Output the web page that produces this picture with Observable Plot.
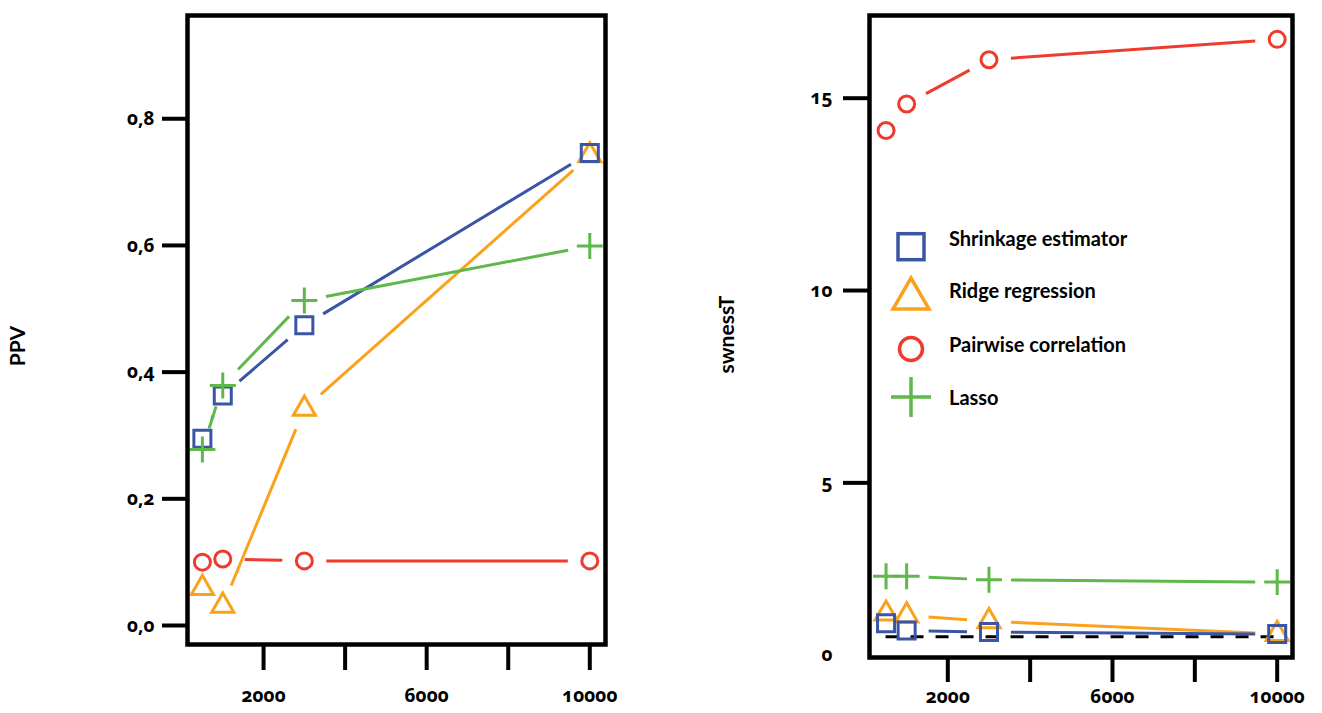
<!DOCTYPE html>
<html>
<head>
<meta charset="utf-8">
<script src="https://cdn.jsdelivr.net/npm/d3@7"></script>
<script src="https://cdn.jsdelivr.net/npm/@observablehq/plot@0.6"></script>
<style>
  html, body { margin: 0; padding: 0; background: #fff; }
  body { width: 1322px; height: 713px; position: relative; overflow: hidden; font-family: Lato, "Open Sans", sans-serif; }
  #left { position: absolute; left: 0; top: 0; }
  #right { position: absolute; left: 660px; top: 0; }
  #legend { position: absolute; left: 870px; top: 200px; }
  svg [aria-label$="tick label"], svg [aria-label$="tick label"] text {
    font-family: "Noto Sans", sans-serif !important;
    font-size: 19px !important;
    font-weight: bold !important;
    font-variant-numeric: oldstyle-nums;
    font-feature-settings: "onum" 1;
  }
</style>
</head>
<body>
<div id="left"></div>
<div id="right"></div>
<svg id="legend" width="330" height="230"></svg>
<script>
// ---------- data ----------
const xValues = [500, 1000, 3000, 10000];
const seriesNames = ["Shrinkage estimator", "Ridge regression", "Pairwise correlation", "Lasso"];
const seriesColors = ["#3b55a5", "#f9a21b", "#ee3b2d", "#5fb84a"];
const seriesSymbols = ["square", "triangle", "circle", "plus"];

const ppvShrinkage = [0.295, 0.363, 0.474, 0.746];
const ppvRidge     = [0.059, 0.031, 0.342, 0.742];
const ppvPairwise  = [0.100, 0.105, 0.102, 0.102];
const ppvLasso     = [0.278, 0.379, 0.513, 0.599];

const swShrinkage = [1.35, 1.16, 1.12, 1.07];
const swRidge     = [1.60, 1.55, 1.40, 1.07];
const swPairwise  = [14.16, 14.85, 16.00, 16.53];
const swLasso     = [2.57, 2.57, 2.48, 2.42];
const swReference = [1];

const ppvTicks = [0, 0.2, 0.4, 0.6, 0.8];
const swTicks = [5, 10, 15];
const swZeroLabelAt = [0.54];
const xTicks = [2000, 4000, 6000, 8000, 10000];
const xTickLabels = [2000, 6000, 10000];

// ---------- helpers ----------
const markerR = {square: 9.6, triangle: 8.2, circle: 8, plus: 8.4};
const drawOrder = [2, 1, 0, 3]; // red, orange, blue, green

function seriesMarks(valuesList) {
  const marks = [];
  for (const i of drawOrder) {
    const vals = valuesList[i];
    const pts = xValues.map((x, k) => ({x, y: vals[k]}));
    const segs = d3.pairs(pts).map(([a, b]) => ({x1: a.x, y1: a.y, x2: b.x, y2: b.y}));
    marks.push(Plot.arrow(segs, {
      x1: "x1", y1: "y1", x2: "x2", y2: "y2",
      stroke: seriesColors[i], strokeWidth: 3, headLength: 0,
      insetStart: 22, insetEnd: 22, strokeLinecap: "butt"
    }));
    marks.push(Plot.dot(pts, {
      x: "x", y: "y", symbol: seriesSymbols[i], r: markerR[seriesSymbols[i]],
      stroke: seriesColors[i], strokeWidth: 3, fill: "none"
    }));
  }
  return marks;
}

const tickText = {fontSize: 19, fontWeight: "bold", fontFamily: "Noto Sans"};
const titleText = {fontSize: 21, fontWeight: "bold", fontFamily: "Lato", textAnchor: "middle"};

// ---------- left panel: PPV ----------
const left = Plot.plot({
  width: 660, height: 713,
  marginLeft: 187, marginRight: 55, marginTop: 15, marginBottom: 69,
  style: {fontFamily: "Lato", fontSize: "16px", fontWeight: "bold", color: "black", background: "white"},
  x: {domain: [135, 10385]},
  y: {domain: [-0.030, 0.963]},
  marks: [
    ...seriesMarks([ppvShrinkage, ppvRidge, ppvPairwise, ppvLasso]),
    Plot.frame({stroke: "black", strokeWidth: 4.5}),
    Plot.axisY({ticks: ppvTicks, tickSize: 25, tickPadding: 8, strokeWidth: 4,
      tickFormat: d => d.toFixed(1).replace(".", ","), label: null, ...tickText}),
    Plot.axisX({ticks: xTicks, tickSize: 26, tickPadding: 18, strokeWidth: 4,
      tickFormat: d => xTickLabels.includes(d) ? String(d) : "", label: null, ...tickText}),
    Plot.text(["PPV"], {frameAnchor: "left", dx: -169, dy: 16, rotate: -90, text: d => d, ...titleText})
  ]
});
document.getElementById("left").append(left);

// ---------- right panel: swnessT ----------
const right = Plot.plot({
  width: 662, height: 713,
  marginLeft: 209, marginRight: 30, marginTop: 15, marginBottom: 56,
  style: {fontFamily: "Lato", fontSize: "16px", fontWeight: "bold", color: "black", background: "white"},
  x: {domain: [98, 10372]},
  y: {domain: [0.46, 17.15]},
  marks: [
    Plot.ruleY(swReference, {x1: d3.min(xValues), x2: d3.max(xValues), stroke: "black",
      strokeWidth: 3, strokeDasharray: "13,12"}),
    ...seriesMarks([swShrinkage, swRidge, swPairwise, swLasso]),
    Plot.frame({stroke: "black", strokeWidth: 4.5}),
    Plot.axisY({ticks: swTicks, tickSize: 26, tickPadding: 11, strokeWidth: 4,
      tickFormat: d => String(d), label: null, ...tickText}),
    Plot.axisY({ticks: swZeroLabelAt, tickSize: 0, tickPadding: 37, tickFormat: () => "0",
      label: null, ...tickText}),
    Plot.axisX({ticks: xTicks, tickSize: 25, tickPadding: 7, strokeWidth: 4,
      tickFormat: d => xTickLabels.includes(d) ? String(d) : "", label: null, ...tickText}),
    Plot.text(["swnessT"], {frameAnchor: "left", dx: -142, dy: -2, rotate: -90, text: d => d, ...titleText})
  ]
});
document.getElementById("right").append(right);

// ---------- legend (inside right panel) ----------
const lg = d3.select("#legend");
const ox = 870, oy = 200;
const rows = [
  {cy: 246.7, ty: 246},
  {cy: 298,   ty: 298},
  {cy: 349,   ty: 352},
  {cy: 397,   ty: 405}
];
seriesNames.forEach((name, i) => {
  const cx = 911 - ox, cy = rows[i].cy - oy;
  const g = lg.append("g").attr("transform", `translate(${cx},${cy})`)
    .attr("fill", "none").attr("stroke", seriesColors[i]).attr("stroke-width", 3.5);
  const s = seriesSymbols[i];
  if (s === "square") g.append("rect").attr("x", -13).attr("y", -13).attr("width", 26).attr("height", 26);
  if (s === "triangle") g.append("path").attr("d", "M0,-20L18,11L-18,11Z");
  if (s === "circle") g.append("circle").attr("r", 11.5);
  if (s === "plus") g.append("path").attr("d", "M-20,0H20M0,-20V20");
  lg.append("text").attr("x", 949 - ox).attr("y", rows[i].ty - oy)
    .attr("font-family", "Lato").attr("font-weight", "bold").attr("font-size", 20)
    .attr("fill", "black").text(name);
});
</script>
</body>
</html>
